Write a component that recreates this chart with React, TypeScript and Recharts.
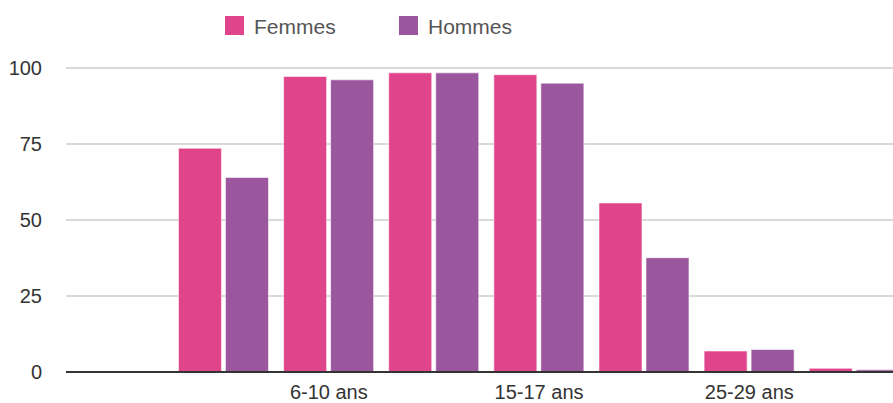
import { BarChart, Bar, XAxis, YAxis, CartesianGrid, Legend } from 'recharts'

// age groups (first one has no data in the source chart)
const ageGroups = ['0-2 ans', '3-5 ans', '6-10 ans', '11-14 ans', '15-17 ans', '18-24 ans', '25-29 ans', '30 ans et +']
const shownLabels = ['6-10 ans', '15-17 ans', '25-29 ans']
const femmes = [0, 73.6, 97.2, 98.4, 97.8, 55.6, 6.9, 1.2]
const hommes = [0, 64.0, 96.1, 98.4, 95.0, 37.6, 7.4, 0.7]
const yTicks = [0, 25, 50, 75, 100]

const PINK = '#e0448a'
const PURPLE = '#9b579d'
const FONT = '"Liberation Sans", Arial, Helvetica, sans-serif'

const chartData = ageGroups.map((age, i) => ({
  age,
  Femmes: femmes[i],
  Hommes: hommes[i]
}))

const legendItems = [
  { name: 'Femmes', color: PINK, left: 225 },
  { name: 'Hommes', color: PURPLE, left: 399 }
]

function LegendContent() {
  return (
    <div style={{ position: 'relative', width: 893, height: 50 }}>
      {legendItems.map((item) => (
        <div
          key={item.name}
          style={{
            position: 'absolute',
            left: item.left,
            top: 16,
            display: 'flex',
            alignItems: 'center',
            fontFamily: FONT,
            fontSize: 21,
            color: '#555'
          }}
        >
          <span style={{ width: 19, height: 19, background: item.color, display: 'inline-block', marginRight: 10 }} />
          <span style={{ lineHeight: '19px', position: 'relative', top: 1 }}>{item.name}</span>
        </div>
      ))}
    </div>
  )
}

export default function App() {
  return (
    <div style={{ position: 'absolute', left: 0, top: 0, width: 893, height: 403, overflow: 'hidden', background: '#fff' }}>
      <BarChart
        width={907}
        height={403}
        data={chartData}
        margin={{ top: 68, right: 0, bottom: 0, left: 0 }}
        barCategoryGap="7%"
        barGap={4}
      >
        <CartesianGrid vertical={false} stroke="#cccccc" strokeWidth={1.5} />
        <XAxis
          dataKey="age"
          interval={0}
          height={31}
          tickLine={false}
          tickSize={0}
          tickMargin={13}
          axisLine={{ stroke: '#333', strokeWidth: 2 }}
          tick={{ fill: '#333', fontSize: 20, fontFamily: FONT }}
          tickFormatter={(v: string) => (shownLabels.includes(v) ? v : '')}
        />
        <YAxis
          width={66}
          domain={[0, 100]}
          ticks={yTicks}
          axisLine={false}
          tickLine={false}
          tickSize={0}
          tickMargin={24}
          tick={{ fill: '#333', fontSize: 20, fontFamily: FONT }}
        />
        <Legend
          verticalAlign="middle"
          layout="horizontal"
          content={() => <LegendContent />}
          wrapperStyle={{ top: 0, left: 0, width: 893, height: 50 }}
        />
        <Bar dataKey="Femmes" fill={PINK} stroke="#ffffff" strokeOpacity={0.55} strokeWidth={1} isAnimationActive={false} />
        <Bar dataKey="Hommes" fill={PURPLE} stroke="#ffffff" strokeOpacity={0.55} strokeWidth={1} isAnimationActive={false} />
      </BarChart>
    </div>
  )
}
